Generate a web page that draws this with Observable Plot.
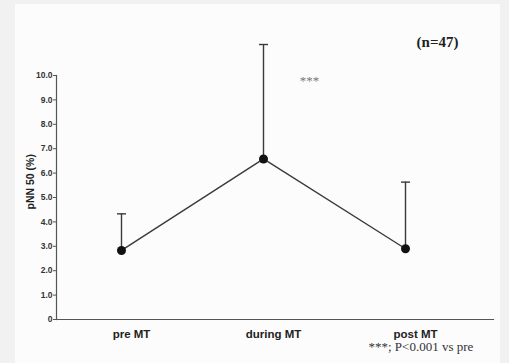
<!DOCTYPE html>
<html>
<head>
<meta charset="utf-8">
<script src="https://cdn.jsdelivr.net/npm/d3@7"></script>
<script src="https://cdn.jsdelivr.net/npm/@observablehq/plot@0.6"></script>
<style>
  html, body { margin: 0; padding: 0; background: #f1f1f1; }
  #wrap { position: relative; width: 509px; height: 363px; overflow: hidden; }
  #panel { position: absolute; left: 15px; top: 4px; width: 485px; height: 359px; background: #fcfcfc; }
  #chart { position: absolute; left: 0; top: 0; }
</style>
</head>
<body>
<div id="wrap"><div id="panel"></div><div id="chart"></div></div>
<script>
// pNN50 (%) before, during and after MT: mean with upper SD bar
const phases = ["pre MT", "during MT", "post MT"];
const means = [2.83, 6.58, 2.90];
const uppers = [4.33, 11.27, 5.63];
const yTicks = [0, 1, 2, 3, 4, 5, 6, 7, 8, 9, 10];
const sampleNote = "(n=47)";
const sigMark = "***";
const footnote = "***; P<0.001 vs pre";

const rows = phases.map((p, i) => ({phase: p, mean: means[i], upper: uppers[i]}));

const sans = "'Liberation Sans', Arial, sans-serif";
const serif = "'Liberation Serif', 'Times New Roman', serif";
const ink = "#3a3a3a";

// horizontal stroke used as the cap of each error bar (half-width = r)
const capSymbol = {
  draw(context, size) {
    const w = Math.sqrt(size / Math.PI);
    context.moveTo(-w, 0);
    context.lineTo(w, 0);
  }
};

const chart = Plot.plot({
  width: 509,
  height: 363,
  marginLeft: 56,
  marginRight: 16,
  marginTop: 75,
  marginBottom: 44,
  style: {background: "transparent", overflow: "visible"},
  x: {type: "point", domain: phases, range: [121, 405], padding: 0},
  y: {domain: [0, 10]},
  marks: [
    Plot.frame({anchor: "left", stroke: "#555", strokeWidth: 1.2}),
    Plot.frame({anchor: "bottom", stroke: "#555", strokeWidth: 1.2}),
    Plot.axisY({
      ticks: yTicks,
      tickSize: 3,
      tickPadding: 1,
      tickFormat: d => d === 0 ? "0" : d.toFixed(1),
      label: null,
      fontSize: 8.5,
      fontWeight: "bold",
      fontFamily: sans,
      fill: "#333",
      stroke: "#555"
    }),
    Plot.axisX({
      tickSize: 0,
      tickPadding: 10,
      dx: 10,
      label: null,
      fontSize: 11.5,
      fontWeight: "bold",
      fontFamily: sans,
      fill: "#222"
    }),
    Plot.text(["pNN 50 (%)"], {
      frameAnchor: "left", rotate: -90, dx: -26, dy: 12,
      fontSize: 10.5, fontWeight: "bold", fontFamily: sans, fill: "#222"
    }),
    // error bars: stem and cap
    Plot.ruleX(rows, {x: "phase", y1: "mean", y2: "upper", stroke: ink, strokeWidth: 1.4}),
    Plot.dot(rows, {x: "phase", y: "upper", r: 4.5, symbol: capSymbol, fill: "none", stroke: ink, strokeWidth: 1.4}),
    Plot.line(rows, {x: "phase", y: "mean", stroke: ink, strokeWidth: 1.4}),
    Plot.dot(rows, {x: "phase", y: "mean", r: 4.5, fill: "#111", stroke: "none"}),
    Plot.text([sigMark], {
      x: () => "during MT", y: () => 9.8, dx: 46,
      fontSize: 13, fontFamily: serif, fill: "#777"
    }),
    Plot.text([sampleNote], {
      frameAnchor: "top-right", dx: -35, dy: -39,
      fontSize: 15, fontWeight: "bold", fontFamily: serif, fill: "#222"
    }),
    Plot.text([footnote], {
      frameAnchor: "bottom-right", textAnchor: "start", dx: -125, dy: 31,
      fontSize: 13, fontFamily: serif, fill: "#333"
    })
  ]
});
document.getElementById("chart").appendChild(chart);
</script>
</body>
</html>
